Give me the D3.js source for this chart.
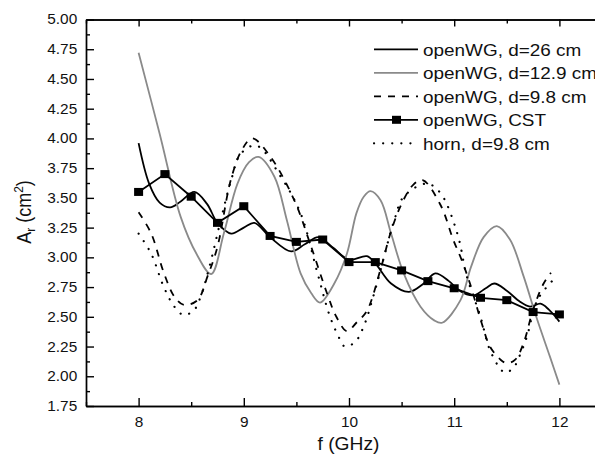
<!DOCTYPE html>
<html>
<head>
<meta charset="utf-8">
<script src="https://cdn.jsdelivr.net/npm/d3@7"></script>
<style>
  body { margin: 0; background: #fff; }
  svg { display: block; font-family: "Liberation Sans", Arial, sans-serif; }
  .axis path, .axis line { stroke: #000; stroke-width: 1.4; }
  .axis text { font-size: 14px; fill: #111; font-family: "Liberation Sans", Arial, sans-serif; }
</style>
</head>
<body>
<script>
// openWG, d=26 cm
const fD26 = [8.00, 8.10, 8.20, 8.30, 8.40, 8.53, 8.65, 8.75, 8.88, 9.00, 9.10, 9.25, 9.45, 9.58, 9.71, 9.85, 10.00, 10.17, 10.25, 10.40, 10.57, 10.71, 10.82, 10.95, 11.05, 11.18, 11.30, 11.38, 11.50, 11.62, 11.72, 11.82, 11.90, 12.00]
const vD26 = [3.96, 3.62, 3.46, 3.42, 3.47, 3.55, 3.45, 3.29, 3.20, 3.25, 3.29, 3.17, 3.05, 3.11, 3.17, 3.08, 2.98, 3.01, 2.95, 2.78, 2.71, 2.78, 2.865, 2.80, 2.72, 2.68, 2.74, 2.78, 2.72, 2.63, 2.585, 2.61, 2.56, 2.46]

// openWG, d=12.9 cm
const fD129 = [8.00, 8.20, 8.40, 8.55, 8.69, 8.81, 8.94, 9.05, 9.14, 9.29, 9.41, 9.54, 9.64, 9.725, 9.86, 9.98, 10.07, 10.14, 10.205, 10.30, 10.40, 10.52, 10.68, 10.81, 10.885, 11.06, 11.16, 11.28, 11.405, 11.53, 11.66, 11.78, 11.91, 12.00]
const vD129 = [4.72, 4.04, 3.34, 3.03, 2.86, 3.20, 3.62, 3.80, 3.845, 3.68, 3.31, 2.865, 2.70, 2.62, 2.78, 3.03, 3.37, 3.51, 3.557, 3.48, 3.20, 2.865, 2.585, 2.47, 2.45, 2.64, 2.92, 3.17, 3.263, 3.15, 2.84, 2.50, 2.165, 1.93]

// openWG, d=9.8 cm
const fD98 = [8.00, 8.12, 8.24, 8.34, 8.43, 8.56, 8.655, 8.75, 8.876, 8.98, 9.08, 9.25, 9.48, 9.64, 9.79, 9.88, 9.98, 10.07, 10.17, 10.30, 10.40, 10.50, 10.61, 10.70, 10.87, 10.99, 11.07, 11.15, 11.26, 11.34, 11.44, 11.50, 11.58, 11.66, 11.75, 11.85, 11.92]
const vD98 = [3.38, 3.20, 2.87, 2.67, 2.60, 2.64, 2.84, 3.09, 3.65, 3.90, 4.00, 3.85, 3.48, 3.09, 2.70, 2.50, 2.38, 2.45, 2.55, 2.90, 3.22, 3.45, 3.61, 3.65, 3.44, 3.15, 2.98, 2.78, 2.45, 2.25, 2.14, 2.11, 2.14, 2.28, 2.56, 2.78, 2.87]

// openWG, CST (simulated, every 0.25 GHz)
const fCST = [8.00, 8.25, 8.50, 8.75, 9.00, 9.25, 9.50, 9.75, 10.00, 10.25, 10.50, 10.75, 11.00, 11.25, 11.50, 11.75, 12.00]
const vCST = [3.55, 3.70, 3.51, 3.29, 3.43, 3.18, 3.13, 3.15, 2.96, 2.96, 2.89, 2.80, 2.74, 2.66, 2.64, 2.54, 2.52]

// horn, d=9.8 cm
const fHorn = [8.00, 8.12, 8.24, 8.34, 8.43, 8.53, 8.59, 8.67, 8.78, 8.88, 8.97, 9.12, 9.35, 9.54, 9.70, 9.82, 9.92, 9.96, 10.06, 10.14, 10.24, 10.43, 10.52, 10.74, 10.87, 11.03, 11.12, 11.25, 11.34, 11.45, 11.49, 11.57, 11.63, 11.69, 11.79, 11.93]
const vHorn = [3.20, 3.03, 2.75, 2.585, 2.515, 2.56, 2.67, 2.91, 3.31, 3.65, 3.87, 3.94, 3.68, 3.37, 2.87, 2.50, 2.30, 2.25, 2.29, 2.42, 2.70, 3.31, 3.51, 3.62, 3.54, 3.20, 2.84, 2.50, 2.22, 2.05, 2.03, 2.08, 2.19, 2.33, 2.64, 2.80]

const legendLabels = ['openWG, d=26 cm', 'openWG, d=12.9 cm', 'openWG, d=9.8 cm', 'openWG, CST', 'horn, d=9.8 cm']
const xTicks = [8, 9, 10, 11, 12]
const xMinor = [7.5, 8.5, 9.5, 10.5, 11.5, 12.5]
const yTicks = [1.75, 2.00, 2.25, 2.50, 2.75, 3.00, 3.25, 3.50, 3.75, 4.00, 4.25, 4.50, 4.75, 5.00]
const yMinor = yTicks.slice(0, -1).map(d => d + 0.125)

let width = 595
let height = 454
const margin = { top: 19.5, left: 86, bottom: 48 };
const stretch = 1.1  // the reference lettering is a bit wider than tall

let svg = d3.select('body').append('svg')
    .attr('width', width)
    .attr('height', height);

let x = d3.scaleLinear().domain([7.5, 12.5]).range([margin.left, 612]);
let y = d3.scaleLinear().domain([1.75, 5.0]).range([height - margin.bottom, margin.top]);

let pair = (fs, vs) => fs.map((f, i) => [f, vs[i]]);
let line = d3.line().x(d => x(d[0])).y(d => y(d[1])).curve(d3.curveCatmullRom.alpha(0.5));
let straight = d3.line().x(d => x(d[0])).y(d => y(d[1]));

const DOT = '0.1,9'
let series = [
    { label: legendLabels[0], data: pair(fD26, vD26), color: '#000', dash: null, w: 1.8 },
    { label: legendLabels[1], data: pair(fD129, vD129), color: '#8a8a8a', dash: null, w: 1.8 },
    { label: legendLabels[2], data: pair(fD98, vD98), color: '#000', dash: '7,7', w: 1.8 },
    { label: legendLabels[3], data: pair(fCST, vCST), color: '#000', dash: null, w: 1.8, marker: true },
    { label: legendLabels[4], data: pair(fHorn, vHorn), color: '#000', dash: DOT, w: 2.2 }
];

// axes
let xBottom = svg.append('g').attr('class', 'axis')
    .attr('transform', `translate(0,${ y(1.75) })`)
    .call(d3.axisBottom(x).tickValues(xTicks).tickSize(-8).tickSizeOuter(0).tickPadding(11).tickFormat(d3.format('d')));
xBottom.selectAll('text').attr('transform', `scale(${ stretch },1)`);
svg.append('g').attr('class', 'axis')
    .attr('transform', `translate(0,${ y(1.75) })`)
    .call(d3.axisBottom(x).tickValues(xMinor).tickSize(-4).tickSizeOuter(0).tickFormat(''));

svg.append('g').attr('class', 'axis')
    .attr('transform', `translate(0,${ y(5) })`)
    .call(d3.axisTop(x).tickValues(xTicks).tickSize(-7).tickSizeOuter(0).tickFormat(''));
svg.append('g').attr('class', 'axis')
    .attr('transform', `translate(0,${ y(5) })`)
    .call(d3.axisTop(x).tickValues(xMinor).tickSize(-4).tickSizeOuter(0).tickFormat(''));

let yLeft = svg.append('g').attr('class', 'axis')
    .attr('transform', `translate(${ margin.left },0)`)
    .call(d3.axisLeft(y).tickValues(yTicks).tickSize(-8).tickSizeOuter(0).tickPadding(8).tickFormat(d3.format('.2f')));
yLeft.selectAll('text').attr('transform', `scale(${ stretch },1)`);
svg.append('g').attr('class', 'axis')
    .attr('transform', `translate(${ margin.left },0)`)
    .call(d3.axisLeft(y).tickValues(yMinor).tickSize(-4).tickSizeOuter(0).tickFormat(''));

// axis titles
svg.append('text')
    .attr('transform', `translate(348.5,449.5) scale(${ stretch },1)`)
    .attr('text-anchor', 'middle')
    .style('font-size', '17.5px')
    .style('fill', '#111')
    .text('f (GHz)');

let yTitle = svg.append('text')
    .attr('transform', `translate(31,212) rotate(-90) scale(1,${ stretch })`)
    .attr('text-anchor', 'middle')
    .style('font-size', '18px')
    .style('fill', '#111');
yTitle.append('tspan').text('A');
yTitle.append('tspan').attr('dy', 4).style('font-size', '12px').text('r');
yTitle.append('tspan').attr('dy', -4).text(' (cm');
yTitle.append('tspan').attr('dy', -7).style('font-size', '12px').text('2');
yTitle.append('tspan').attr('dy', 7).text(')');

// curves
let plot = svg.append('g');
series.forEach(s => {
    plot.append('path')
        .datum(s.data)
        .attr('fill', 'none')
        .attr('stroke', s.color)
        .attr('stroke-width', s.w)
        .attr('stroke-dasharray', s.dash)
        .attr('stroke-linecap', s.dash === DOT ? 'round' : 'butt')
        .attr('d', s.marker ? straight : line);
    if (s.marker) {
        plot.selectAll('rect.cst').data(s.data)
            .join('rect')
            .attr('class', 'cst')
            .attr('x', d => x(d[0]) - 4.5)
            .attr('y', d => y(d[1]) - 4)
            .attr('width', 9)
            .attr('height', 8)
            .attr('fill', '#000');
    }
});

// legend
let legend = svg.append('g');
series.forEach((s, i) => {
    let ly = 49.3 + i * 23.5;
    legend.append('line')
        .attr('x1', 374).attr('x2', 418)
        .attr('y1', ly).attr('y2', ly)
        .attr('stroke', s.color)
        .attr('stroke-width', s.w)
        .attr('stroke-dasharray', s.dash)
        .attr('stroke-linecap', s.dash === DOT ? 'round' : 'butt');
    if (s.marker) {
        legend.append('rect')
            .attr('x', 392).attr('y', ly - 4)
            .attr('width', 9).attr('height', 8)
            .attr('fill', '#000');
    }
    legend.append('text')
        .attr('transform', `translate(423,${ ly + 6.2 }) scale(${ stretch },1)`)
        .style('font-size', '17.2px')
        .style('fill', '#111')
        .text(s.label);
});
</script>
</body>
</html>
